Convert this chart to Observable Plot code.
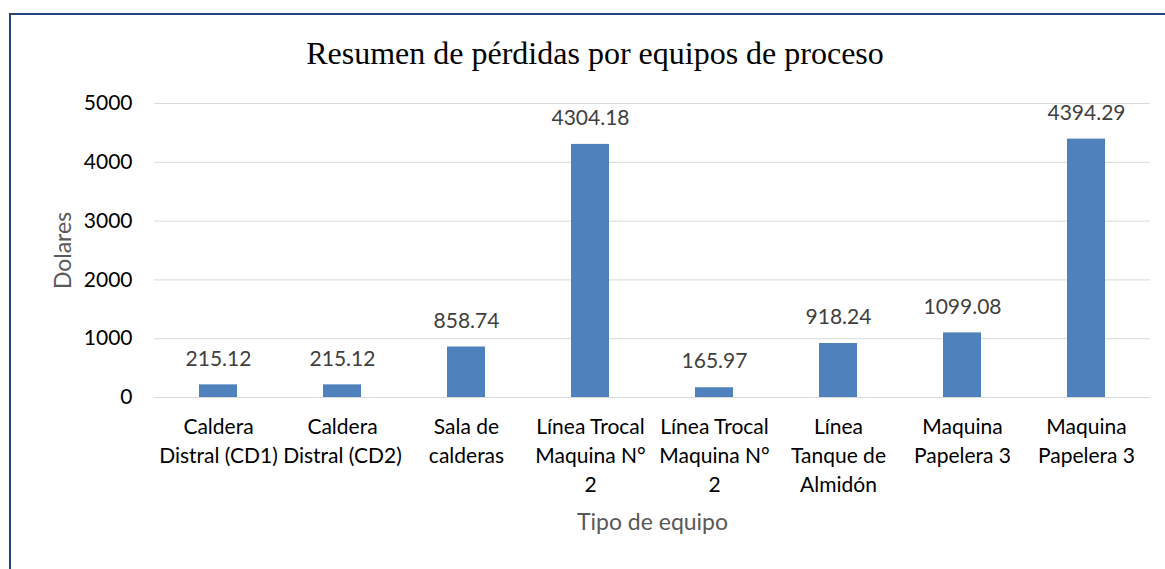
<!DOCTYPE html>
<html>
<head>
<meta charset="utf-8">
<script src="https://cdn.jsdelivr.net/npm/d3@7"></script>
<script src="https://cdn.jsdelivr.net/npm/@observablehq/plot@0.6"></script>
<style>
  html, body { margin: 0; padding: 0; background: #fff; }
  #wrap { position: relative; width: 1165px; height: 569px; overflow: hidden; }
  #frame { position: absolute; left: 9px; top: 13px; width: 1200px; height: 600px; border: 2px solid #25427a; box-sizing: border-box; }
  #title { position: absolute; left: 0; width: 1190px; top: 33px; text-align: center; font-family: "Liberation Serif", "Times New Roman", serif; font-size: 32px; line-height: 40px; color: #000; }
  #chart { position: absolute; left: 0; top: 0; }
</style>
</head>
<body>
<div id="wrap">
  <div id="frame"></div>
  <div id="title">Resumen de pérdidas por equipos de proceso</div>
  <div id="chart"></div>
</div>
<script>
const categories = [
  "Caldera\nDistral (CD1)",
  "Caldera\nDistral (CD2)",
  "Sala de\ncalderas",
  "Línea Trocal\nMaquina N°\n2",
  "Línea Trocal\nMaquina N°\n2",
  "Línea\nTanque de\nAlmidón",
  "Maquina\nPapelera 3",
  "Maquina\nPapelera 3"
];
const values = [215.12, 215.12, 858.74, 4304.18, 165.97, 918.24, 1099.08, 4394.29];
const yTicks = [0, 1000, 2000, 3000, 4000, 5000];

const data = categories.map((c, i) => ({i, label: c, value: values[i]}));
const idx = data.map(d => d.i);

const chart = Plot.plot({
  width: 1165,
  height: 569,
  marginLeft: 154,
  marginRight: 15,
  marginTop: 103,
  marginBottom: 172,
  style: {fontFamily: "Lato, sans-serif", fontSize: "21px", background: "transparent", overflow: "visible"},
  x: {type: "band", domain: idx, paddingInner: 0.69, paddingOuter: 0.345, align: 0.5},
  y: {domain: [0, 5000]},
  marks: [
    Plot.gridY(yTicks, {stroke: "#d9d9d9", strokeOpacity: 1, strokeWidth: 1}),
    Plot.barY(data, {x: "i", y: "value", fill: "#4f81bd"}),
    Plot.text(data, {x: "i", y: "value", text: d => d.value.toFixed(2), dy: -26, fill: "#404040", fontSize: 21, lineAnchor: "middle"}),
    Plot.axisY(yTicks, {tickSize: 0, tickPadding: 22, fontSize: 21, color: "#000", tickFormat: d => String(d), label: "Dolares", labelAnchor: "center", labelArrow: "none", labelOffset: 100}),
    Plot.axisX(idx, {tickSize: 0, tickPadding: 16, fontSize: 21, lineHeight: 1.38, tickFormat: i => categories[i], label: null, color: "#000"}),
    Plot.text(["Tipo de equipo"], {frameAnchor: "bottom", dy: 125, fill: "#595959", fontSize: 23, lineAnchor: "middle"})
  ]
});
chart.querySelectorAll("g[aria-label='y-axis label'] text").forEach(t => { t.setAttribute("fill", "#595959"); t.style.fontSize = "23px"; });
document.getElementById("chart").appendChild(chart);
</script>
</body>
</html>
